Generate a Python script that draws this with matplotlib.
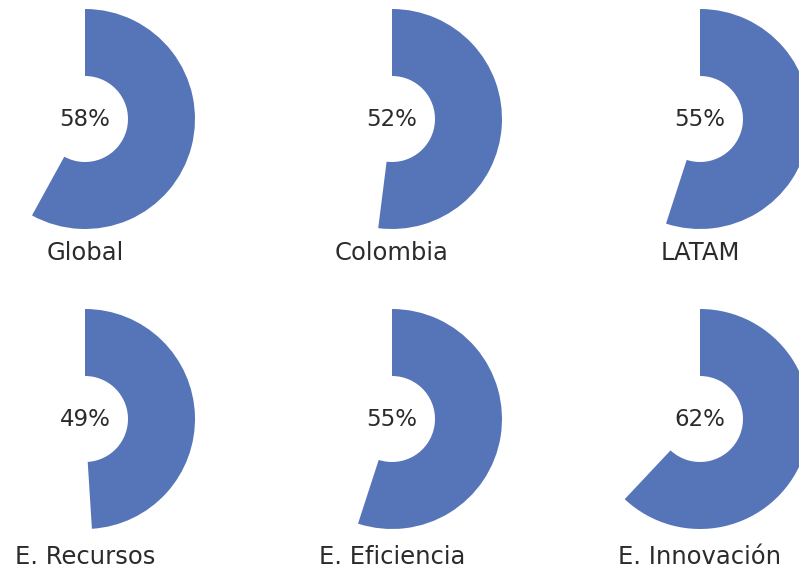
import matplotlib
matplotlib.use("Agg")
import matplotlib.pyplot as plt

# data
labels = ["Global", "Colombia", "LATAM", "E. Recursos", "E. Eficiencia", "E. Innovación"]
values = [58, 52, 55, 49, 55, 62]

col_x = [85, 392, 700]
row_y = [119, 419]
label_y = [253, 557]

blue = "#5675B9"
txt = "#2b2b2b"

plt.rcParams['font.family'] = ['DejaVu Sans']

fig = plt.figure(figsize=(7.99, 5.70), dpi=100)
ax = fig.add_axes([0, 0, 1, 1])

H = 570
for i in range(len(values)):
    r = i // 3
    c = i % 3
    cx = col_x[c]
    cy = H - row_y[r]
    v = values[i] / 100.0
    ax.pie([v, 1 - v], colors=[blue, "none"], startangle=90, counterclock=False,
           center=(cx, cy), radius=110, wedgeprops=dict(width=67, linewidth=0))
    ax.text(cx, cy, str(values[i]) + "%", ha="center", va="center",
            fontsize=16.5, color=txt)
    ax.text(cx, H - label_y[r], labels[i], ha="center", va="center",
            fontsize=17.5, color=txt)

ax.set_xlim(0, 799)
ax.set_ylim(0, 570)
ax.set_aspect("equal")
ax.axis("off")

fig.savefig("out.png", dpi=100)
